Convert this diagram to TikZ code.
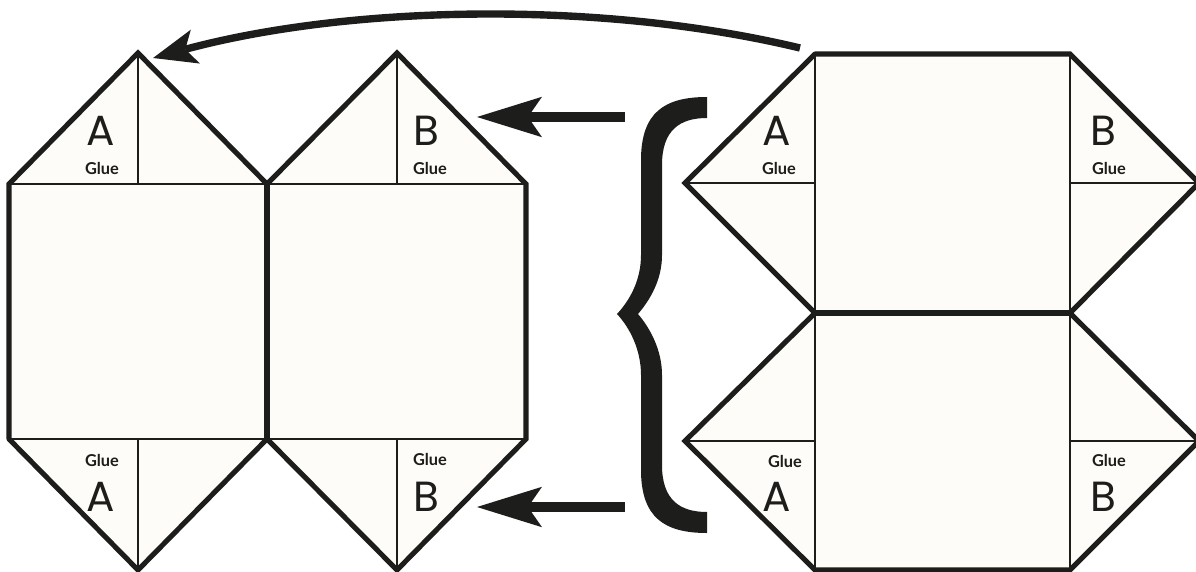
\documentclass[tikz,border=0pt]{standalone}
\usepackage{fontspec}
\setmainfont{Lato}
\newfontfamily\letterfont{Poppins}
\usetikzlibrary{arrows.meta}
\definecolor{ink}{HTML}{1D1D1B}
\definecolor{paper}{HTML}{FDFCF8}
\begin{document}
\begin{tikzpicture}[x=0.02cm,y=-0.02cm,
  face/.style={fill=paper,draw=none},
  fold/.style={draw=ink,line width=0.85pt},
  edge line/.style={draw=ink,line width=2.9pt,line join=miter,line cap=round},
  letter node/.style={text=ink,font=\letterfont\fontsize{24}{24}\selectfont,inner sep=0pt},
  glue node/.style={text=ink,font=\bfseries\fontsize{9.3}{10}\selectfont,inner sep=0pt},
  pointer/.style={draw=ink,line width=5.2pt,-{Stealth[length=37pt,width=23pt,inset=8pt,line width=0pt]},shorten >=0pt}]
\useasboundingbox (0,0) rectangle (1196,571);
% left net
\coordinate (l1) at (9,184);
\coordinate (l2) at (267,184);
\coordinate (l3) at (526,184);
\coordinate (l4) at (9,439);
\coordinate (l5) at (267,439);
\coordinate (l6) at (526,439);
\coordinate (la) at (138,53);
\coordinate (lb) at (397,53);
\coordinate (lc) at (138,570);
\coordinate (ld) at (397,570);
\coordinate (la0) at (138,184);
\coordinate (lb0) at (397,184);
\coordinate (lc0) at (138,439);
\coordinate (ld0) at (397,439);
% right net
\coordinate (r1) at (815,54);
\coordinate (r2) at (1070,54);
\coordinate (r3) at (815,313);
\coordinate (r4) at (1070,313);
\coordinate (r5) at (815,570);
\coordinate (r6) at (1070,570);
\coordinate (ra) at (685,183);
\coordinate (rb) at (1199,183);
\coordinate (rc) at (685,441);
\coordinate (rd) at (1199,441);
\coordinate (ra0) at (815,183);
\coordinate (rb0) at (1070,183);
\coordinate (rc0) at (815,441);
\coordinate (rd0) at (1070,441);
% faces
\fill[face] (l1) -- (la) -- (l2) -- (lb) -- (l3) -- (l6) -- (ld) -- (l5) -- (lc) -- (l4) -- cycle;
\fill[face] (r1) -- (r2) -- (rb) -- (r4) -- (rd) -- (r6) -- (r5) -- (rc) -- (r3) -- (ra) -- cycle;
% fold lines
\draw[fold] (l1) -- (l3);
\draw[fold] (l4) -- (l6);
\draw[fold] (la) -- (la0);
\draw[fold] (lb) -- (lb0);
\draw[fold] (lc) -- (lc0);
\draw[fold] (ld) -- (ld0);
\draw[fold] (r1) -- (r5);
\draw[fold] (r2) -- (r6);
\draw[fold] (ra) -- (ra0);
\draw[fold] (rb) -- (rb0);
\draw[fold] (rc) -- (rc0);
\draw[fold] (rd) -- (rd0);
% outlines
\draw[edge line] (l4) -- (l1) -- (la) -- (l2) -- (lb) -- (l3) -- (l6) -- (ld) -- (l5) -- (lc) -- (l4);
\draw[edge line] (l2) -- (l5);
\draw[edge line] (r1) -- (r2) -- (rb) -- (r4) -- (rd) -- (r6) -- (r5) -- (rc) -- (r3) -- (ra) -- (r1);
\draw[edge line] (r3) -- (r4);
% labels
\node[letter node] (ta1) at (101,131) {A};
\node[glue node] (tg1) at (102,168) {Glue};
\node[letter node] (tb1) at (426,131) {B};
\node[glue node] (tg2) at (430,168) {Glue};
\node[glue node] (tg3) at (102,460) {Glue};
\node[letter node] (ta2) at (101,497) {A};
\node[glue node] (tg4) at (430,459) {Glue};
\node[letter node] (tb2) at (426,497) {B};
\node[letter node] (ta3) at (777,131) {A};
\node[glue node] (tg5) at (779,168) {Glue};
\node[letter node] (tb3) at (1103,131) {B};
\node[glue node] (tg6) at (1109,168) {Glue};
\node[glue node] (tg7) at (785,461) {Glue};
\node[letter node] (ta4) at (777,497) {A};
\node[glue node] (tg8) at (1109,460) {Glue};
\node[letter node] (tb4) at (1103,497) {B};
% brace
\fill[ink] (707,97) .. controls (665,97) and (641,112) .. (641,160)
  -- (641,255) .. controls (641,280) and (630,300) .. (617,314)
  .. controls (630,328) and (641,350) .. (641,375)
  -- (641,470) .. controls (641,518) and (665,533) .. (707,533)
  -- (707,512) .. controls (680,512) and (662,500) .. (662,465)
  -- (662,375) .. controls (662,350) and (650,328) .. (638,314)
  .. controls (650,300) and (662,280) .. (662,255)
  -- (662,165) .. controls (662,130) and (680,118) .. (707,118) -- cycle;
% arrows
\coordinate (s1) at (800,48);
\coordinate (e1) at (153,58);
\coordinate (s2) at (625,117);
\coordinate (e2) at (477,117);
\coordinate (s3) at (625,507);
\coordinate (e3) at (477,507);
\draw[pointer,line width=4.2pt,-{Stealth[length=25pt,width=20pt,inset=6pt,line width=0pt]}] (s1) .. controls (600,0) and (350,5) .. (e1);
\draw[pointer] (s2) -- (e2);
\draw[pointer] (s3) -- (e3);
\end{tikzpicture}
\end{document}
